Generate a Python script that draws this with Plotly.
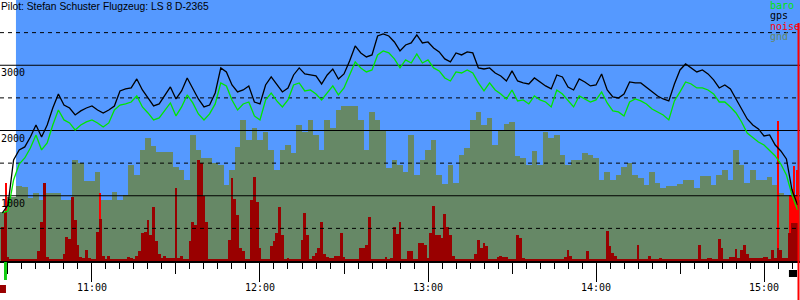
import plotly.graph_objects as go
import pandas as pd

DAY = "2000-01-01"
T_START = pd.Timestamp(f"{DAY} 10:28")          # first sample
X_RANGE = [f"{DAY} 10:27:09", f"{DAY} 15:12:51"]
TAKEOFF = f"{DAY} 10:32:51"

TITLE = "Pilot: Stefan Schuster Flugzeug: LS 8 D-2365"

# altitude (m) every 2 minutes from 10:28
gps = [736, 858, 1548, 1702, 1748, 1901, 2085, 1901, 2085, 2345,
       2560, 2391, 2345, 2238, 2300, 2345, 2376, 2315, 2269, 2315,
       2376, 2606, 2637, 2652, 2790, 2621, 2499, 2376, 2407, 2545,
       2667, 2483, 2606, 2805, 2637, 2483, 2361, 2391, 2575, 2959,
       2897, 2698, 2591, 2621, 2683, 2437, 2407, 2698, 2821, 2698,
       2591, 2652, 2851, 2959, 2867, 2851, 2836, 2713, 2851, 2943,
       2790, 2867, 3066, 3296, 3189, 3127, 3158, 3449, 3480, 3449,
       3357, 3219, 3311, 3342, 3465, 3342, 3357, 3265, 3204, 3097,
       3051, 3189, 3158, 3204, 3189, 2959, 2943, 2959, 2882, 2836,
       2759, 2913, 2759, 2729, 2713, 2805, 2744, 2683, 2637, 2851,
       2821, 2667, 2621, 2790, 2744, 2683, 2698, 2867, 2621, 2514,
       2499, 2560, 2744, 2729, 2729, 2667, 2591, 2529, 2483, 2453,
       2713, 2928, 3020, 2959, 2897, 2928, 2867, 2775, 2652, 2698,
       2637, 2483, 2330, 2177, 2085, 2024, 1916, 1932, 1778, 1686,
       1564, 1088, 858]

baro = [736, 767, 1242, 1487, 1579, 1732, 1932, 1702, 1809, 2085,
        2315, 2162, 2116, 2008, 2085, 2131, 2162, 2116, 2054, 2116,
        2315, 2391, 2407, 2437, 2529, 2361, 2269, 2162, 2192, 2315,
        2422, 2223, 2361, 2545, 2422, 2254, 2162, 2254, 2407, 2729,
        2683, 2468, 2315, 2407, 2437, 2223, 2162, 2468, 2575, 2453,
        2361, 2468, 2698, 2729, 2606, 2621, 2560, 2468, 2575, 2683,
        2545, 2652, 2851, 3051, 2959, 2897, 2928, 3158, 3219, 3189,
        3097, 2959, 3081, 3035, 3173, 3035, 3081, 2959, 2913, 2805,
        2759, 2897, 2882, 2928, 2882, 2729, 2606, 2729, 2621, 2560,
        2483, 2621, 2453, 2468, 2407, 2529, 2468, 2437, 2361, 2621,
        2560, 2453, 2361, 2529, 2483, 2437, 2468, 2591, 2422, 2300,
        2284, 2223, 2437, 2483, 2453, 2407, 2330, 2284, 2238, 2162,
        2453, 2591, 2744, 2713, 2652, 2652, 2621, 2560, 2437, 2437,
        2361, 2269, 2131, 1962, 1886, 1824, 1778, 1686, 1610, 1487,
        1318, 1012, 782]

gnd = [751, 981, 981, 1150, 1134, 966, 1042, 935, 1042, 1042,
       1042, 935, 935, 1548, 1502, 1226, 1226, 1364, 935, 935,
       1058, 935, 1012, 1472, 1318, 1702, 1886, 1763, 1671, 1671,
       1671, 1441, 1395, 1242, 1932, 1702, 1579, 1579, 1502, 1472,
       1165, 1395, 1748, 2162, 1855, 2039, 1855, 1978, 1702, 1395,
       1702, 1778, 1656, 2085, 1978, 2162, 1932, 1702, 2162, 2039,
       2315, 2376, 2376, 2376, 2162, 1702, 2284, 2162, 2008, 1426,
       1548, 1472, 1364, 1932, 1318, 1548, 1702, 1855, 1318, 1180,
       1472, 1196, 1625, 1732, 2162, 2284, 2085, 2192, 1778, 2008,
       2100, 2131, 1610, 1579, 1472, 1686, 1472, 1978, 1886, 1932,
       1625, 1472, 1548, 1548, 1656, 1625, 1579, 1242, 1364, 1242,
       1318, 1441, 1502, 1318, 1272, 1165, 1364, 1196, 1119, 1150,
       1150, 1180, 1242, 1242, 1119, 1303, 1303, 1165, 1318, 1395,
       1242, 1702, 1472, 1196, 1395, 1242, 1242, 1288, 1165, 1042,
       1012, 981, 935]

# noise, one value per minute from 10:28
noise = [520, 750,
         60, 25, 25, 25, 25, 25, 25, 25, 25, 25,
         25, 150, 600, 1190, 60, 25, 25, 25, 25, 25,
         100, 370, 330, 980, 630, 250, 60, 40, 170, 40,
         30, 30, 450, 640, 80, 30, 80, 30, 30, 30,
         30, 30, 30, 60, 50, 30, 80, 150, 430, 450,
         630, 400, 830, 300, 100, 50, 80, 50, 50, 50,
         1120, 40, 80, 30, 30, 300, 600, 550, 1550, 1500,
         1000, 600, 30, 25, 25, 25, 25, 25, 25, 320,
         1270, 950, 700, 200, 150, 25, 25, 935, 1290, 900,
         200, 25, 25, 25, 230, 300, 430, 830, 400, 30,
         40, 25, 25, 25, 25, 320, 740, 400, 30, 80,
         130, 200, 600, 100, 60, 50, 40, 80, 80, 430,
         60, 25, 25, 25, 25, 25, 200, 200, 250, 680,
         30, 25, 25, 25, 25, 60, 25, 40, 520, 420,
         600, 30, 25, 150, 150, 25, 25, 280, 280, 250,
         50, 430, 850, 400, 400, 350, 720, 520, 400, 80,
         25, 25, 25, 25, 25, 25, 25, 100, 320, 200,
         280, 230, 30, 25, 25, 60, 80, 60, 60, 25,
         25, 25, 400, 350, 40, 25, 25, 25, 25, 25,
         25, 25, 25, 25, 25, 25, 25, 25, 25, 60,
         170, 80, 25, 25, 25, 25, 25, 160, 25, 25,
         25, 25, 25, 25, 460, 230, 120, 80, 25, 25,
         25, 25, 25, 25, 25, 245, 25, 25, 25, 80,
         25, 25, 25, 50, 25, 25, 25, 25, 25, 25,
         25, 25, 25, 25, 25, 25, 25, 245, 25, 25,
         50, 40, 25, 25, 340, 200, 25, 25, 60, 60,
         180, 40, 170, 240, 110, 50, 50, 50, 40, 40,
         60, 60, 30, 170, 40, 200, 170, 50, 50, 430,
         580, 580, 580]

# strong noise peaks
noise_hi_t = ["10:29:28", "11:02:51", "15:05:00", "15:09:30", "15:10:00",
              "15:10:30", "15:10:45", "15:11:15", "15:11:45"]
noise_hi = [1196, 1042, 2150, 1012, 1012, 1100, 1456, 1012, 1395]

Y_LABELS = [1000, 2000, 3000]
Y_SOLID = [1000, 2000, 3000]
Y_DASH = [500, 1500, 2500, 3500]
LEGEND = [("baro", "#00e600"), ("gps", "#000000"), ("noise", "#ff0000"), ("gnd", "#668866")]

BLUE = "#5599ff"
MONO = "DejaVu Sans Mono"

t2 = pd.date_range(T_START, periods=len(gps), freq="2min")
t1 = pd.date_range(T_START, periods=len(noise), freq="1min")
thi = [pd.Timestamp(f"{DAY} {s}") for s in noise_hi_t]

fig = go.Figure()
fig.add_trace(go.Bar(x=t2, y=gnd, width=120000, marker=dict(color="#668866", line=dict(width=0)),
                     hoverinfo="skip"))
fig.add_trace(go.Bar(x=thi, y=noise_hi, width=30000, marker=dict(color="#ff0000", line=dict(width=0)),
                     hoverinfo="skip"))
fig.add_trace(go.Bar(x=t1, y=noise, width=60000, marker=dict(color="#990000", line=dict(width=0)),
                     hoverinfo="skip"))
for v in Y_SOLID:
    fig.add_trace(go.Scatter(x=X_RANGE, y=[v, v], mode="lines", line=dict(color="black", width=1),
                             hoverinfo="skip"))
for v in Y_DASH:
    fig.add_trace(go.Scatter(x=X_RANGE, y=[v, v], mode="lines",
                             line=dict(color="black", width=1, dash="4px,4px"), hoverinfo="skip"))
fig.add_trace(go.Scatter(x=t2, y=baro, mode="lines", line=dict(color="#00e600", width=1.3)))
fig.add_trace(go.Scatter(x=t2, y=gps, mode="lines", line=dict(color="black", width=1.3)))
# carrier for the half-hour tick axis
fig.add_trace(go.Scatter(x=[X_RANGE[0]], y=[None], xaxis="x2", mode="lines", hoverinfo="skip"))

H = 261.0  # plot height in px, used for paper fractions of the small markers

def py(px):
    return (H - px) / H

shapes = [
    dict(type="rect", xref="x", yref="paper", x0=TAKEOFF, x1=X_RANGE[1], y0=0, y1=1,
         fillcolor=BLUE, line=dict(width=0), layer="below"),
    dict(type="line", xref="x", yref="paper", x0=f"{DAY} 15:12:19", x1=f"{DAY} 15:12:19",
         y0=py(300), y1=py(23), line=dict(color="#ff0000", width=2), layer="above"),
    dict(type="rect", xref="x", yref="paper", x0=f"{DAY} 15:08:54", x1=f"{DAY} 15:11:48",
         y0=py(277), y1=py(270), fillcolor="black", line=dict(width=0), layer="above"),
    dict(type="rect", xref="x", yref="paper", x0=f"{DAY} 10:28:34", x1=f"{DAY} 10:29:38",
         y0=py(280), y1=py(262), fillcolor="#11cc11", line=dict(width=0), layer="above"),
    dict(type="rect", xref="x", yref="paper", x0=X_RANGE[0], x1=f"{DAY} 10:29:17",
         y0=py(293), y1=py(285), fillcolor="#990000", line=dict(width=0), layer="above"),
]

ann = [dict(text=TITLE, xref="paper", yref="paper", x=0, y=1, xanchor="left", yanchor="top",
            xshift=-1, yshift=1, showarrow=False,
            font=dict(family="Liberation Sans, Arial", size=10.3, color="black"))]
for v in Y_LABELS:
    ann.append(dict(text=str(v), xref="paper", yref="y", x=0, y=v, xanchor="left", yanchor="top",
                    xshift=-1, yshift=0, showarrow=False, font=dict(family=MONO, size=10, color="black")))
for i, (name, col) in enumerate(LEGEND):
    ann.append(dict(text=name, xref="paper", yref="paper", x=769 / 800, y=1, xanchor="left",
                    yanchor="top", xshift=-1, yshift=2 - 10.3 * i, showarrow=False,
                    font=dict(family=MONO, size=10, color=col)))

fig.update_layout(
    width=800, height=300, margin=dict(l=0, r=0, t=0, b=39),
    paper_bgcolor="white", plot_bgcolor="white",
    barmode="overlay", bargap=0, showlegend=False,
    shapes=shapes, annotations=ann,
    xaxis=dict(type="date", range=X_RANGE, tick0=f"{DAY} 10:00", dtick=3600000, tickformat="%H:%M",
               ticks="outside", ticklen=19, tickwidth=1, tickcolor="black", ticklabelstandoff=-3,
               showline=True, linecolor="black", linewidth=2, showgrid=False, zeroline=False,
               tickfont=dict(family=MONO, size=10, color="black"),
               minor=dict(tick0=f"{DAY} 10:00", dtick=300000, ticks="outside", ticklen=6,
                          tickwidth=1, tickcolor="black", showgrid=False)),
    xaxis2=dict(type="date", range=X_RANGE, overlaying="x", anchor="y", side="bottom",
                tick0=f"{DAY} 10:00", dtick=1800000, ticks="outside", ticklen=12, tickwidth=1,
                tickcolor="black", showticklabels=False, showgrid=False, showline=False,
                zeroline=False),
    yaxis=dict(range=[0, 4000], showgrid=False, zeroline=False, showticklabels=False,
               ticks="", showline=False),
)

fig.write_html("out.html")
